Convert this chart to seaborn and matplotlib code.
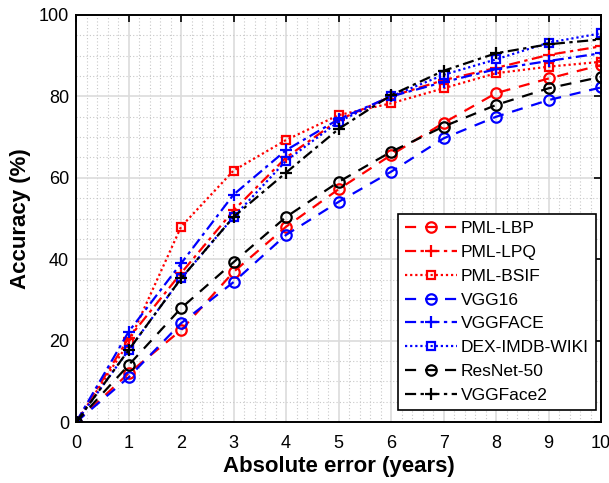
import matplotlib
matplotlib.use('Agg')
import matplotlib.pyplot as plt
import seaborn as sns
import pandas as pd
import numpy as np
from matplotlib.ticker import MultipleLocator

# data
err = [0, 1, 2, 3, 4, 5, 6, 7, 8, 9, 10]
pml_lbp = [0, 12, 22.6, 36.9, 48, 57.2, 65.6, 73.5, 80.8, 84.4, 87.7]
pml_lpq = [0, 20.6, 36.6, 52, 65, 74.2, 80, 84, 87, 90.2, 92.3]
pml_bsif = [0, 19.5, 48, 61.8, 69.3, 75.4, 78.3, 82, 85.7, 87.3, 88.5]
vgg16 = [0, 11, 24.3, 34.4, 46, 54.1, 61.5, 69.7, 75, 79.1, 82.2]
vggface = [0, 22.2, 39, 55.9, 66.8, 74.4, 80, 83.5, 86.7, 88.7, 90.6]
dex = [0, 17.7, 35.3, 50.4, 64.2, 73.8, 80, 85.3, 89.1, 93.2, 95.5]
resnet50 = [0, 14, 28, 39.3, 50.4, 59, 66.4, 72.6, 77.9, 82, 84.8]
vggface2 = [0, 17.7, 35.3, 50.4, 61.3, 72, 80.3, 86.3, 90.6, 92.8, 94]

names = ['PML-LBP', 'PML-LPQ', 'PML-BSIF', 'VGG16', 'VGGFACE',
         'DEX-IMDB-WIKI', 'ResNet-50', 'VGGFace2']
values = [pml_lbp, pml_lpq, pml_bsif, vgg16, vggface, dex, resnet50, vggface2]

sns.set_style('white', {'text.color': 'black', 'axes.labelcolor': 'black',
                        'xtick.color': 'black', 'ytick.color': 'black'})
plt.rcParams['font.family'] = ['Liberation Sans', 'DejaVu Sans']

# style per series: color, marker, dash pattern, marker size
styles = {
    'PML-LBP': ('red', 'o', (5, 4), 7.5),
    'PML-LPQ': ('red', '+', (5, 2, 1.5, 2), 9),
    'PML-BSIF': ('red', 's', (1, 1.3), 5.5),
    'VGG16': ('blue', 'o', (5, 4), 7.5),
    'VGGFACE': ('blue', '+', (5, 2, 1.5, 2), 9),
    'DEX-IMDB-WIKI': ('blue', 's', (1, 1.3), 5.5),
    'ResNet-50': ('black', 'o', (5, 4), 7.5),
    'VGGFace2': ('black', '+', (5, 2, 1.5, 2), 9),
}

fig, ax = plt.subplots(figsize=(6.09, 4.83), dpi=100)
plt.subplots_adjust(left=0.125, right=0.987, bottom=0.126, top=0.969)

for name, vals in zip(names, values):
    c, m, d, ms = styles[name]
    df = pd.DataFrame({'x': err, 'y': vals})
    sns.lineplot(data=df, x='x', y='y', ax=ax, color=c, marker=m,
                 markersize=ms, markerfacecolor='none',
                 markeredgecolor=c, markeredgewidth=1.6,
                 linewidth=1.6, label=name)
    ax.lines[-1].set_dashes(d)

ax.set_xlim(0, 10)
ax.set_ylim(0, 100)
ax.xaxis.set_major_locator(MultipleLocator(1))
ax.xaxis.set_minor_locator(MultipleLocator(0.2))
ax.yaxis.set_major_locator(MultipleLocator(20))
ax.yaxis.set_minor_locator(MultipleLocator(5))

ax.grid(which='major', color='#dcdcdc', linestyle='-', linewidth=1.2)
ax.grid(which='minor', color='#c8c8c8', linestyle=(0, (1, 2)), linewidth=0.8)
ax.set_axisbelow(True)

ax.tick_params(which='major', direction='in', length=5, width=1.2,
               top=True, right=True, labelsize=13, colors='black')
ax.tick_params(axis='x', which='major', pad=9)
ax.tick_params(axis='y', which='major', pad=5)
ax.tick_params(which='minor', length=0)
for sp in ax.spines.values():
    sp.set_color('black')
    sp.set_linewidth(1.4)

ax.set_xlabel('Absolute error (years)', fontsize=16, fontweight='bold',
              labelpad=3, color='black')
ax.set_ylabel('Accuracy (%)', fontsize=16, fontweight='bold',
              labelpad=6, color='black')

leg = ax.legend(loc='lower right', bbox_to_anchor=(0.99, 0.03), fontsize=12.5,
                frameon=True, fancybox=False, edgecolor='black',
                handlelength=3.0, borderpad=0.4, labelspacing=0.5,
                handletextpad=0.2, borderaxespad=0)
leg.get_frame().set_linewidth(1.2)
leg.get_frame().set_alpha(1)
for t in leg.get_texts():
    t.set_color('black')

plt.savefig('out.png', dpi=100)
